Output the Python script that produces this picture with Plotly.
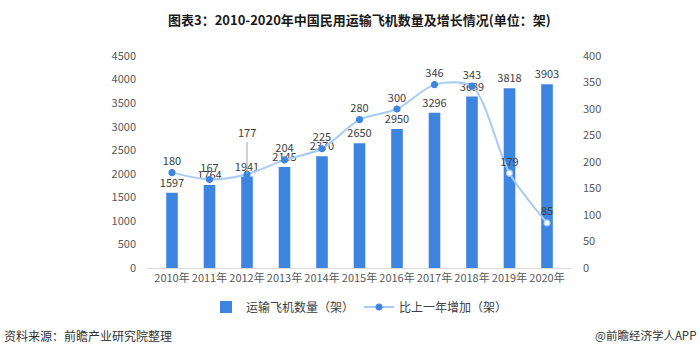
import plotly.graph_objects as go

years = ["2010年", "2011年", "2012年", "2013年", "2014年", "2015年", "2016年", "2017年", "2018年", "2019年", "2020年"]
fleet = [1597, 1764, 1941, 2145, 2370, 2650, 2950, 3296, 3639, 3818, 3903]
increase = [180, 167, 177, 204, 225, 280, 300, 346, 343, 179, 85]
left_ticks = [0, 500, 1000, 1500, 2000, 2500, 3000, 3500, 4000, 4500]
right_ticks = [0, 50, 100, 150, 200, 250, 300, 350, 400]

bar_color = "#3D85E0"
line_color = "#A8CBF6"
tick_color = "#595959"
font_cjk = "Noto Sans CJK SC"

hollow = [False] * 9 + [True, True]
marker_fill = ["white" if h else bar_color for h in hollow]
marker_line = [line_color if h else bar_color for h in hollow]
line_text = ["" if y == "2012年" else str(v) for y, v in zip(years, increase)]

fig = go.Figure()
fig.add_trace(go.Bar(
    x=years, y=fleet, name="运输飞机数量（架）",
    marker=dict(color=bar_color, line=dict(width=0)),
    width=0.31,
    text=[str(v) for v in fleet], textposition="outside", constraintext="none",
    textfont=dict(size=11, color="#404040", family=font_cjk),
    cliponaxis=False,
))
fig.add_trace(go.Scatter(
    x=years, y=increase, name="比上一年增加（架）", yaxis="y2",
    mode="lines+markers+text",
    line=dict(color=line_color, width=2, shape="spline", smoothing=0.8),
    marker=dict(size=6, color=marker_fill, line=dict(color=marker_line, width=1.2)),
    text=line_text, textposition="top center",
    textfont=dict(size=11, color="#404040", family=font_cjk),
    cliponaxis=False,
))

# leader-line label for 2012
fig.add_annotation(
    x="2012年", y=177, yref="y2", text="177", showarrow=True,
    arrowhead=0, arrowwidth=1, arrowcolor="#A0A0A0",
    ax=0, ay=-32, yanchor="bottom",
    font=dict(size=11, color="#404040", family=font_cjk),
)

fig.add_annotation(
    xref="paper", yref="paper", x=0.5, y=1.0, xanchor="center", yanchor="bottom",
    yshift=25,
    text="<b>图表3：2010-2020年中国民用运输飞机数量及增长情况(单位：架)</b>",
    showarrow=False, font=dict(size=13, color="#1a1a1a", family=font_cjk),
)
fig.add_annotation(
    xref="paper", yref="paper", x=-147/426, y=-67/212, xanchor="left", yanchor="middle",
    xshift=2,
    text="资料来源：前瞻产业研究院整理", showarrow=False,
    font=dict(size=12, color="#333333", family=font_cjk),
)
fig.add_annotation(
    xref="paper", yref="paper", x=(699-147)/426, y=-67/212, xanchor="right", yanchor="middle",
    text="@前瞻经济学人APP", showarrow=False,
    font=dict(size=11.5, color="#333333", family=font_cjk),
)

fig.update_layout(
    width=700, height=354,
    margin=dict(l=147, r=128, t=56, b=86),
    paper_bgcolor="white", plot_bgcolor="white",
    showlegend=True,
    legend=dict(orientation="h", x=0.5, xanchor="center", y=-0.184, yanchor="middle",
                font=dict(size=12, color="#404040", family=font_cjk),
                itemwidth=30, tracegroupgap=0),
    xaxis=dict(showgrid=False, showline=True, linecolor="#D9D9D9", linewidth=1,
               ticks="", tickfont=dict(size=11, color=tick_color, family=font_cjk)),
    yaxis=dict(range=[0, 4500], tickvals=left_ticks, showgrid=False, zeroline=False,
               showline=False, ticks="", ticklabelstandoff=10,
               tickfont=dict(size=11, color=tick_color, family=font_cjk)),
    yaxis2=dict(range=[0, 400], tickvals=right_ticks, overlaying="y", side="right",
                showgrid=False, zeroline=False, showline=False, ticks="",
                ticklabelstandoff=10,
                tickfont=dict(size=11, color=tick_color, family=font_cjk)),
    bargap=0.69,
)

fig.write_html("out.html")
